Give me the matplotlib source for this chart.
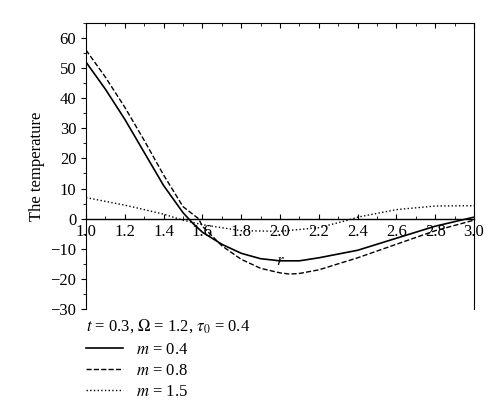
import matplotlib
matplotlib.use("Agg")
import matplotlib.pyplot as plt
from matplotlib.ticker import MultipleLocator
from matplotlib.lines import Line2D

plt.rcParams['font.family'] = ['Liberation Serif', 'DejaVu Serif']
plt.rcParams['mathtext.fontset'] = 'stix'

r1 = [1.0, 1.1, 1.2, 1.3, 1.4, 1.5, 1.55, 1.6, 1.7, 1.8, 1.9, 2.0, 2.1, 2.2, 2.4, 2.6, 2.8, 3.0]
m04 = [52, 43, 33, 22, 11, 2, -1.5, -4.5, -8.5, -11.5, -13.3, -14, -14, -13, -10.5, -6.5, -2.5, 0.5]
r2 = [1.0, 1.1, 1.2, 1.3, 1.4, 1.5, 1.58, 1.6, 1.7, 1.8, 1.9, 2.0, 2.05, 2.1, 2.2, 2.4, 2.6, 2.8, 3.0]
m08 = [56, 47, 37, 26, 14.5, 4, 0, -2.5, -9, -13.5, -16.5, -18, -18.4, -18.2, -17, -13, -8.5, -4, -0.5]
r3 = [1.0, 1.2, 1.4, 1.5, 1.6, 1.8, 2.0, 2.2, 2.35, 2.4, 2.6, 2.8, 3.0]
m15 = [7, 4.5, 1.5, -0.5, -2, -4, -4.2, -3, -0.5, 0.5, 3, 4.2, 4.3]
xticks = [1.0, 1.2, 1.4, 1.6, 1.8, 2.0, 2.2, 2.4, 2.6, 2.8, 3.0]

fig = plt.figure(figsize=(5, 4.17), dpi=100)
ax = fig.add_axes([0.172, 0.259, 0.776, 0.686])
ax.plot(r1, m04, 'k-', lw=1.2)
ax.plot(r2, m08, 'k--', lw=1.0)
ax.plot(r3, m15, 'k:', lw=1.0)
ax.set_xlim(1.0, 3.0)
ax.set_ylim(-30, 65)
ax.spines['bottom'].set_position(('data', 0))
ax.spines['bottom'].set_linewidth(1.0)
ax.set_xticks(xticks)
ax.set_xticklabels(['%.1f' % v for v in xticks])
ax.xaxis.set_minor_locator(MultipleLocator(0.1))
ax.yaxis.set_major_locator(MultipleLocator(10))
ax.yaxis.set_minor_locator(MultipleLocator(5))
ax.set_yticks(range(-30, 61, 10))
ax.tick_params(axis='x', which='both', direction='in', top=True, labelsize=12)
ax.tick_params(axis='y', which='both', direction='out', labelsize=12)
ax.set_ylabel('The temperature', fontsize=12)
ax.text(2.0, -15.5, r'$r$', fontsize=12, ha='center')

handles = [Line2D([], [], color='k', ls='-', lw=1.2),
           Line2D([], [], color='k', ls='--', lw=1.0),
           Line2D([], [], color='k', ls=':', lw=1.0)]
labels = [r'$m$ = 0.4', r'$m$ = 0.8', r'$m$ = 1.5']
fig.text(0.172, 0.24, r'$t$ = 0.3, $\Omega$ = 1.2, $\tau_0$ = 0.4', fontsize=12, va='top')
fig.legend(handles, labels, loc='upper left', bbox_to_anchor=(0.155, 0.20),
           frameon=False, fontsize=12, handlelength=2.2, labelspacing=0.3, borderpad=0)
fig.savefig('out.png', dpi=100)
